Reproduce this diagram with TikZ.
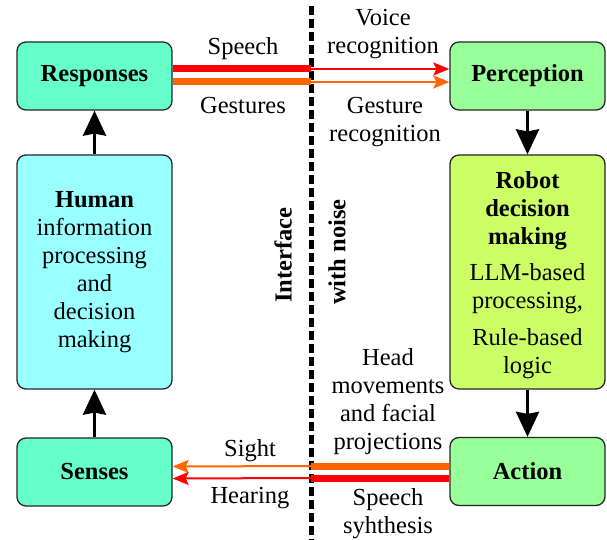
\documentclass[tikz,border=0pt]{standalone}
\usepackage{fontspec}
\setmainfont{Liberation Serif}
\usetikzlibrary{arrows.meta}
\definecolor{respc}{HTML}{66FFCC}
\definecolor{humc}{HTML}{99FFFF}
\definecolor{percc}{HTML}{99FF99}
\definecolor{robc}{HTML}{CCFF66}
\definecolor{redc}{HTML}{FF0000}
\definecolor{orc}{HTML}{FF6600}
\begin{document}
\begin{tikzpicture}[x=1pt,y=-1pt,
  font=\fontsize{24.5}{28}\selectfont,
  box/.style={draw=black!85, line width=1.3pt, rounded corners=9pt, align=center, inner sep=0pt},
  small/.style={box, minimum width=155pt, minimum height=68pt},
  tall/.style={box, minimum width=155pt, minimum height=234pt},
  flow/.style={line width=3pt, -{Stealth[length=25pt, width=23pt, inset=2pt]}},
  thickred/.style={line width=7pt, draw=redc},
  thickor/.style={line width=7pt, draw=orc},
  thinred/.style={line width=2pt, draw=redc, -{Stealth[length=16pt, width=13pt, inset=3pt]}},
  thinor/.style={line width=2pt, draw=orc, -{Stealth[length=16pt, width=13pt, inset=3pt]}},
  lbl/.style={align=center, inner sep=0pt}
]
\useasboundingbox (0,0) rectangle (607,540);

\node[small, fill=respc] (resp) at (94.5,76) {\textbf{Responses}};
\node[small, fill=percc] (perc) at (527.5,76) {\textbf{Perception}};
\node[tall, fill=humc] (hum) at (94.5,272) {\textbf{Human}\\information\\processing\\and\\decision\\making};
\node[tall, fill=robc] (rob) at (527.5,272) {\raisebox{-3pt}[\height][\depth]{\begin{tabular}{@{}c@{}}\textbf{Robot}\\\textbf{decision}\\\textbf{making}\\[8pt]LLM-based\\processing,\\[9pt]Rule-based\\logic\end{tabular}}};
\node[small, fill=respc] (sens) at (94.5,472) {\textbf{Senses}};
\node[small, fill=percc] (act) at (527.5,471.5) {\textbf{Action}};

% interface divider
\coordinate (dtop) at (311,6);
\coordinate (dbot) at (311,540);
\draw[line width=5pt, dash pattern=on 9pt off 4pt] (dtop) -- (dbot);
\node[lbl, rotate=90, font=\fontsize{24.5}{28}\selectfont\bfseries] (iface) at (283,255) {Interface};
\node[lbl, rotate=90, font=\fontsize{24.5}{28}\selectfont\bfseries] (noise) at (337,252) {with noise};

% vertical flows
\draw[flow] (hum.north) -- (resp.south);
\draw[flow] (sens.north) -- (hum.south);
\draw[flow] (perc.south) -- (rob.north);
\draw[flow] (rob.south) -- (act.north);

% top channels
\coordinate (r1) at ([yshift=7pt]resp.east);
\coordinate (o1) at ([yshift=-6pt]resp.east);
\coordinate (r2) at (r1 -| dtop);
\coordinate (o2) at (o1 -| dtop);
\coordinate (r3) at ([yshift=7pt]perc.west);
\coordinate (o3) at ([yshift=-6pt]perc.west);
\draw[thickred] (r1) -- (r2);
\draw[thickor] (o1) -- (o2);
\draw[thinred] (r2) -- (r3);
\draw[thinor] (o2) -- (o3);

% bottom channels
\coordinate (bo1) at ([yshift=5.5pt]act.west);
\coordinate (br1) at ([yshift=-6.5pt]act.west);
\coordinate (bo2) at (bo1 -| dtop);
\coordinate (br2) at (br1 -| dtop);
\coordinate (bo3) at ([yshift=5.5pt]sens.east);
\coordinate (br3) at ([yshift=-6.5pt]sens.east);
\draw[thickor] (bo1) -- (bo2);
\draw[thickred] (br1) -- (br2);
\draw[thinor] (bo2) -- (bo3);
\draw[thinred] (br2) -- (br3);

% labels
\node[lbl] (speech) at (243,49) {Speech};
\node[lbl] (gest) at (243,106) {Gestures};
\node[lbl] (voice) at (383,34.5) {Voice\\recognition};
\node[lbl] (gestrec) at (385,122.5) {Gesture\\recognition};
\node[lbl] (sight) at (250,450.5) {Sight};
\node[lbl] (hear) at (250,498.5) {Hearing};
\node[lbl] (head) at (388,402) {Head\\movements\\and facial\\projections};
\node[lbl] (synth) at (388,514) {Speech\\syhthesis};
\end{tikzpicture}
\end{document}
